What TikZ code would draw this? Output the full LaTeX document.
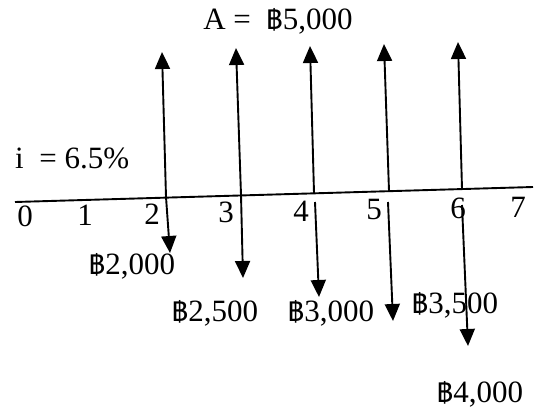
\documentclass[tikz,border=0pt]{standalone}
\usepackage{fontspec}
\setmainfont{Liberation Serif}
\newfontfamily\thaifont[Script=Thai]{Loma}
\newcommand{\bahtsign}{{\thaifont\fontsize{27}{30}\selectfont ฿}}
\usetikzlibrary{arrows.meta}
\begin{document}
\begin{tikzpicture}[x=1pt,y=-1pt,
  flow/.style={line width=1.9pt,-{Triangle[width=15pt,length=17pt]}},
  axisline/.style={line width=1.9pt},
  lbl/.style={inner sep=0pt,anchor=base,font=\fontsize{31}{35}\selectfont}]
\useasboundingbox (0,0) rectangle (535,415);
% axis
\coordinate (o) at (15,202);
\coordinate (e) at (533,187);
\draw[axisline] (o) -- (e);
% bases on the axis and tips
\coordinate (b2) at (166,197);
\coordinate (b3) at (241,195);
\coordinate (b4) at (314,193);
\coordinate (b5) at (389,191);
\coordinate (b6) at (462,189);
\coordinate (u2) at (162,52);
\coordinate (u3) at (236,48);
\coordinate (u4) at (310,46);
\coordinate (u5) at (384,44);
\coordinate (u6) at (458,42);
\foreach \k in {2,...,6} {\draw[flow] (b\k) -- (u\k);}
% down arrows
\coordinate (s4) at (315,202);
\coordinate (s5) at (388,202);
\coordinate (s6) at (462,205);
\coordinate (d2) at (170,253);
\coordinate (d3) at (243,278);
\coordinate (d4) at (319,297);
\coordinate (d5) at (393,321);
\coordinate (d6) at (468,346);
\draw[flow] (b2) -- (d2);
\draw[flow] (b3) -- (d3);
\draw[flow] (s4) -- (d4);
\draw[flow] (s5) -- (d5);
\draw[flow] (s6) -- (d6);
% period labels
\node[lbl] (n0) at (25,226) {0};
\node[lbl] (n1) at (85,225) {1};
\node[lbl] (n2) at (152,224) {2};
\node[lbl] (n3) at (226,222) {3};
\node[lbl] (n4) at (301,221) {4};
\node[lbl] (n5) at (374,219) {5};
\node[lbl] (n6) at (458,218) {6};
\node[lbl] (n7) at (518,217) {7};
% amounts
\node[lbl] (a) at (278,29) {A =\ \ \bahtsign5,000};
\node[lbl,anchor=base west] (i) at (15,168) {i\ \ = 6.5\%};
\node[lbl] (c2) at (132,274) {\bahtsign2,000};
\node[lbl] (c3) at (215,321) {\bahtsign2,500};
\node[lbl] (c4) at (331,321) {\bahtsign3,000};
\node[lbl] (c5) at (455,313) {\bahtsign3,500};
\node[lbl] (c6) at (480,402) {\bahtsign4,000};
\end{tikzpicture}
\end{document}
